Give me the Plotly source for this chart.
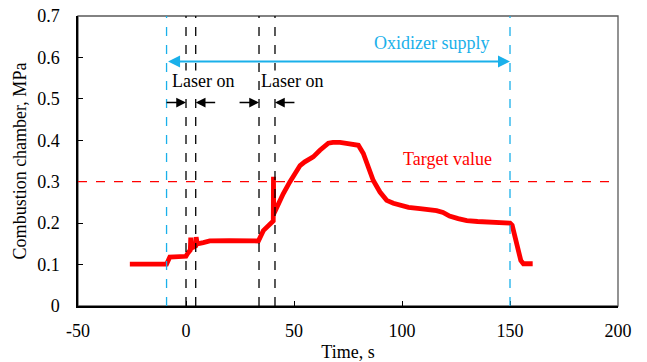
import plotly.graph_objects as go

# ---- data ----
time_s = [-26, -9, -7.5, -3, 0, 0.8, 1.6, 2.0, 2.2, 2.6, 3.5, 4.5, 4.7, 5.2, 8, 11, 20, 28, 33.5,
          35.8, 38, 40.4, 40.5, 40.6, 41.5, 43.5, 45, 48, 52.8, 55, 58.9, 62, 64, 65.9, 68, 71.3, 75,
          79.8, 82.1, 84.4, 86.7, 89.8, 92.9, 96, 99, 103, 108.3, 112, 116, 119, 122, 126, 130,
          135, 140, 145, 150, 151, 152.3, 153.9, 155, 156.2, 160.5]
pressure_mpa = [0.101, 0.101, 0.118, 0.118, 0.12, 0.127, 0.133, 0.135, 0.165, 0.14, 0.142, 0.145,
                0.166, 0.15, 0.153, 0.157, 0.158, 0.157, 0.157,
                0.182, 0.195, 0.205, 0.312, 0.222, 0.232, 0.255, 0.271, 0.299, 0.339, 0.348, 0.36,
                0.376, 0.384, 0.393, 0.395, 0.395, 0.392,
                0.388, 0.368, 0.335, 0.303, 0.275, 0.255, 0.248, 0.243, 0.238, 0.235, 0.233, 0.23,
                0.226, 0.217, 0.211, 0.206,
                0.204, 0.202, 0.201, 0.2, 0.195, 0.166, 0.126, 0.11, 0.102, 0.102]
laser_times = [0, 4.5, 33.8, 41.2]
laser_label_x = [7.8, 48.9]
supply_times = [-9, 150]
target_value = 0.3
x_ticks = [-50, 0, 50, 100, 150, 200]
y_ticks = [0, 0.1, 0.2, 0.3, 0.4, 0.5, 0.6, 0.7]

BLUE = "#1AB0EA"
RED = "#FF0000"
FONT = "Liberation Serif, Times New Roman, serif"
FS = 18

fig = go.Figure()
fig.add_trace(go.Scatter(x=time_s, y=pressure_mpa, mode="lines",
                         line=dict(color=RED, width=4.8), showlegend=False))

shapes = []
# plot-area frame (grey)
shapes.append(dict(type="rect", xref="paper", yref="paper", x0=0, x1=1, y0=0, y1=1,
                   line=dict(color="#595959", width=1.3), layer="below"))
for t in laser_times:
    shapes.append(dict(type="line", xref="x", yref="y", x0=t, x1=t, y0=0, y1=0.7,
                       line=dict(color="black", width=1.3, dash="dash")))
for t in supply_times:
    shapes.append(dict(type="line", xref="x", yref="y", x0=t, x1=t, y0=0, y1=0.7,
                       line=dict(color=BLUE, width=1.3, dash="dash")))
shapes.append(dict(type="line", xref="x", yref="y", x0=-50, x1=200, y0=target_value, y1=target_value,
                   line=dict(color=RED, width=1.2, dash="dash")))

annotations = []
# oxidizer supply double arrow
annotations.append(dict(x=supply_times[1], y=0.59, ax=supply_times[0], ay=0.59, xref="x", yref="y",
                        axref="x", ayref="y", text="", showarrow=True, arrowhead=2, arrowside="end+start",
                        arrowwidth=2, arrowsize=1.2, arrowcolor=BLUE))
annotations.append(dict(x=113.7, y=0.635, xref="x", yref="y", text="Oxidizer supply", showarrow=False,
                        font=dict(family=FONT, size=FS, color=BLUE)))
annotations.append(dict(x=121, y=0.356, xref="x", yref="y", text="Target value", showarrow=False,
                        font=dict(family=FONT, size=FS, color=RED)))
# laser on arrows
pairs = [(laser_times[0], laser_times[1]), (laser_times[2], laser_times[3])]
for (a, b), lx in zip(pairs, laser_label_x):
    annotations.append(dict(x=a, y=0.491, ax=a - 9.7, ay=0.491, xref="x", yref="y", axref="x", ayref="y",
                            text="", showarrow=True, arrowhead=2, arrowwidth=1.5, arrowsize=1.3,
                            arrowcolor="black"))
    annotations.append(dict(x=b, y=0.491, ax=b + 9.7, ay=0.491, xref="x", yref="y", axref="x", ayref="y",
                            text="", showarrow=True, arrowhead=2, arrowwidth=1.5, arrowsize=1.3,
                            arrowcolor="black"))
    annotations.append(dict(x=lx, y=0.543, xref="x", yref="y", text="Laser on",
                            showarrow=False, bgcolor="white", borderpad=0,
                            font=dict(family=FONT, size=FS, color="black")))

fig.update_layout(
    width=647, height=362,
    margin=dict(l=78, r=29, t=16, b=56, pad=0),
    paper_bgcolor="white", plot_bgcolor="white",
    font=dict(family=FONT, size=FS, color="black"),
    shapes=shapes, annotations=annotations,
    xaxis=dict(range=[-50, 200], tickvals=x_ticks, ticktext=[str(v) for v in x_ticks],
               showgrid=False, zeroline=False, showline=True, linecolor="black", linewidth=1.5,
               ticks="inside", ticklen=5, tickcolor="black", tickwidth=1.3, ticklabelstandoff=8,
               tickfont=dict(family=FONT, size=FS), automargin=False,
               title=dict(text="Time, s", standoff=10, font=dict(family=FONT, size=FS))),
    yaxis=dict(range=[0, 0.7], tickvals=y_ticks, ticktext=["0", "0.1", "0.2", "0.3", "0.4", "0.5", "0.6", "0.7"],
               showgrid=False, zeroline=False, showline=True, linecolor="black", linewidth=1.5,
               ticks="inside", ticklen=5, tickcolor="black", tickwidth=1.3, ticklabelstandoff=13,
               tickfont=dict(family=FONT, size=FS), automargin=False,
               title=dict(text="Combustion chamber, MPa", standoff=6, font=dict(family=FONT, size=FS))),
)

fig.write_html("out.html")
